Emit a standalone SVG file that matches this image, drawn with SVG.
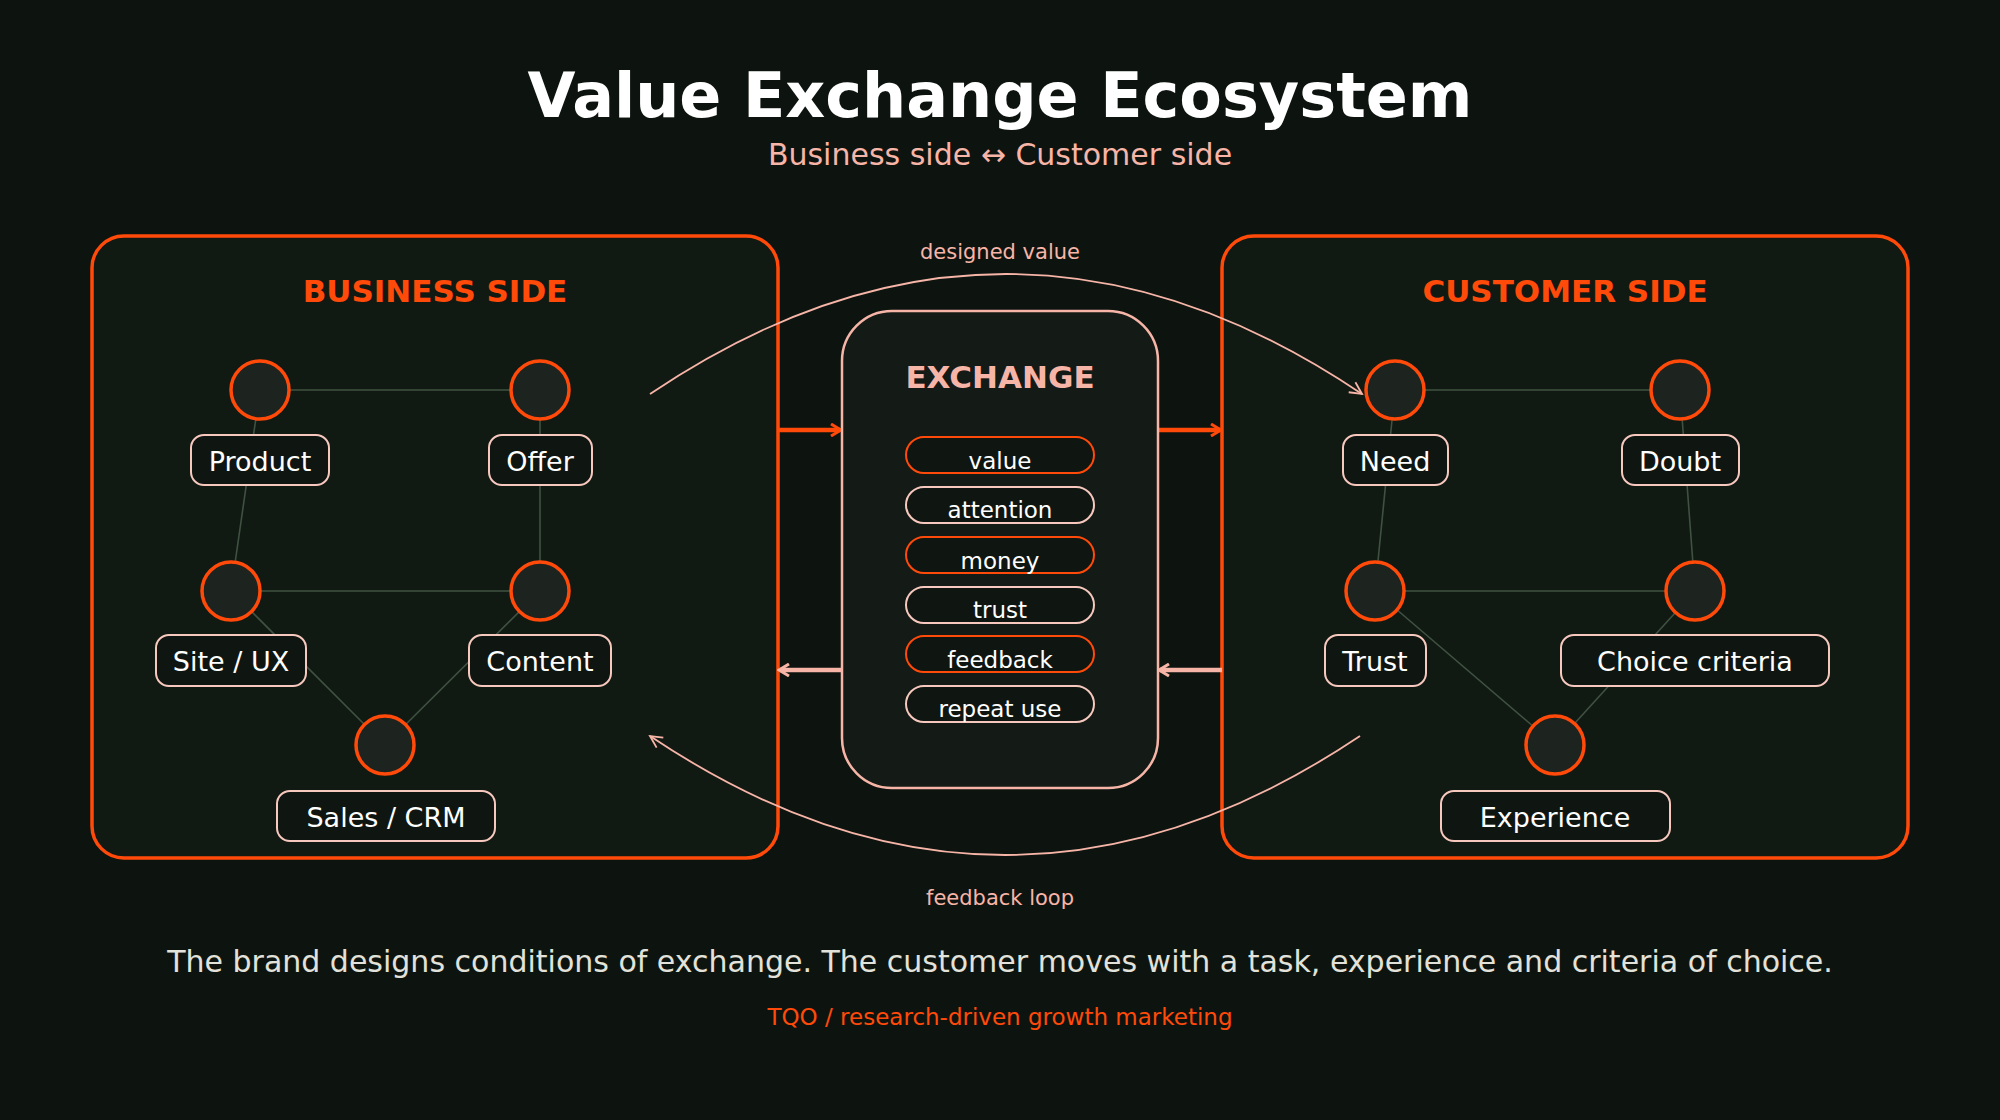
<svg xmlns="http://www.w3.org/2000/svg" width="2000" height="1120" viewBox="0 0 2000 1120">
<defs>
<style>
text{font-family:"DejaVu Sans","Noto Sans",sans-serif}
.panel{fill:#111913;stroke:#ff4a0a;stroke-width:3.5}
.exch{fill:#141b16;stroke:#f7b5a8;stroke-width:2.5}
.c{fill:#1d231f;stroke:#ff4a0a;stroke-width:3.5}
.lbl{fill:#0f1611;stroke:#f7c8be;stroke-width:2}
.lt{fill:#ffffff;font-size:27px;text-anchor:middle}
.e{stroke:#3f5140;stroke-width:1.6;fill:none}
.pillO{fill:#0f1611;stroke:#ff4a0a;stroke-width:2}
.pillP{fill:#0f1611;stroke:#f7c8be;stroke-width:2}
.pt{fill:#ffffff;font-size:23px;text-anchor:middle}
.head{fill:#ff4a0a;font-size:31px;font-weight:bold;text-anchor:middle}
</style>
<marker id="ao" markerWidth="14" markerHeight="14" refX="11" refY="7" orient="auto" markerUnits="userSpaceOnUse" viewBox="0 0 14 14"><path d="M2,1 L12,7 L2,13" fill="none" stroke="#ff4a0a" stroke-width="3"/></marker>
<marker id="ap" markerWidth="14" markerHeight="14" refX="11" refY="7" orient="auto" markerUnits="userSpaceOnUse" viewBox="0 0 14 14"><path d="M2,1 L12,7 L2,13" fill="none" stroke="#f7b5a8" stroke-width="3"/></marker>
<marker id="ac" markerWidth="16" markerHeight="16" refX="14" refY="8" orient="auto" markerUnits="userSpaceOnUse" viewBox="0 0 16 16"><path d="M2,2 L14,8 L2,14" fill="none" stroke="#f7b5a8" stroke-width="1.8"/></marker>
</defs>
<rect width="2000" height="1120" fill="#0d140f"/>
<text x="1000" y="117" font-size="62" font-weight="bold" fill="#ffffff" text-anchor="middle">Value Exchange Ecosystem</text>
<text x="1000" y="165" font-size="30" fill="#f7b5a8" text-anchor="middle">Business side ↔ Customer side</text>

<rect class="panel" x="92" y="236" width="686" height="622" rx="32"/>
<rect class="panel" x="1222" y="236" width="686" height="622" rx="32"/>
<text class="head" x="435" y="302">BUSINESS SIDE</text>
<text class="head" x="1565" y="302">CUSTOMER SIDE</text>

<g id="connectors">
<path class="e" d="M260,390 L540,390 M260,390 L231,591 M540,390 L540,591 M231,591 L540,591 M231,591 L385,745 M540,591 L385,745"/>
<path class="e" d="M1395,390 L1680,390 M1395,390 L1375,591 M1680,390 L1695,591 M1375,591 L1695,591 M1375,591 L1555,745 M1695,591 L1555,745"/>
<line x1="778" y1="430" x2="840" y2="430" stroke="#ff4a0a" stroke-width="4.5" marker-end="url(#ao)"/>
<line x1="1158" y1="430" x2="1220" y2="430" stroke="#ff4a0a" stroke-width="4.5" marker-end="url(#ao)"/>
<line x1="1222" y1="670" x2="1160" y2="670" stroke="#f7b5a8" stroke-width="4.5" marker-end="url(#ap)"/>
<line x1="842" y1="670" x2="780" y2="670" stroke="#f7b5a8" stroke-width="4.5" marker-end="url(#ap)"/>
<path d="M650,394 Q1006,154 1362,394" fill="none" stroke="#f7b5a8" stroke-width="1.8" marker-end="url(#ac)"/>
<path d="M1360,736 Q1005,974 650,736" fill="none" stroke="#f7b5a8" stroke-width="1.8" marker-end="url(#ac)"/>
</g>
<text x="1000" y="259" font-size="21" fill="#f7b5a8" text-anchor="middle">designed value</text>
<text x="1000" y="905" font-size="21" fill="#f7b5a8" text-anchor="middle">feedback loop</text>

<g id="exchange">
<rect class="exch" x="842" y="311" width="316" height="477" rx="50"/>
<text x="1000" y="388" font-size="31" font-weight="bold" fill="#f7b5a8" text-anchor="middle">EXCHANGE</text>
<rect class="pillO" x="906" y="437" width="188" height="36" rx="18"/><text class="pt" x="1000" y="469">value</text>
<rect class="pillP" x="906" y="487" width="188" height="36" rx="18"/><text class="pt" x="1000" y="518">attention</text>
<rect class="pillO" x="906" y="537" width="188" height="36" rx="18"/><text class="pt" x="1000" y="569">money</text>
<rect class="pillP" x="906" y="587" width="188" height="36" rx="18"/><text class="pt" x="1000" y="618">trust</text>
<rect class="pillO" x="906" y="636" width="188" height="36" rx="18"/><text class="pt" x="1000" y="668">feedback</text>
<rect class="pillP" x="906" y="686" width="188" height="36" rx="18"/><text class="pt" x="1000" y="717">repeat use</text>
</g>

<g id="product"><circle class="c" cx="260" cy="390" r="29"/><rect class="lbl" x="191" y="435" width="138" height="50" rx="13"/><text class="lt" x="260" y="471">Product</text></g>
<g id="offer"><circle class="c" cx="540" cy="390" r="29"/><rect class="lbl" x="489" y="435" width="103" height="50" rx="13"/><text class="lt" x="540" y="471">Offer</text></g>
<g id="siteux"><circle class="c" cx="231" cy="591" r="29"/><rect class="lbl" x="156" y="635" width="150" height="51" rx="13"/><text class="lt" x="231" y="671">Site / UX</text></g>
<g id="content"><circle class="c" cx="540" cy="591" r="29"/><rect class="lbl" x="469" y="635" width="142" height="51" rx="13"/><text class="lt" x="540" y="671">Content</text></g>
<g id="sales"><circle class="c" cx="385" cy="745" r="29"/><rect class="lbl" x="277" y="791" width="218" height="50" rx="13"/><text class="lt" x="386" y="827">Sales / CRM</text></g>

<g id="need"><circle class="c" cx="1395" cy="390" r="29"/><rect class="lbl" x="1343" y="435" width="105" height="50" rx="13"/><text class="lt" x="1395" y="471">Need</text></g>
<g id="doubt"><circle class="c" cx="1680" cy="390" r="29"/><rect class="lbl" x="1622" y="435" width="117" height="50" rx="13"/><text class="lt" x="1680" y="471">Doubt</text></g>
<g id="trust"><circle class="c" cx="1375" cy="591" r="29"/><rect class="lbl" x="1325" y="635" width="101" height="51" rx="13"/><text class="lt" x="1375" y="671">Trust</text></g>
<g id="choice"><circle class="c" cx="1695" cy="591" r="29"/><rect class="lbl" x="1561" y="635" width="268" height="51" rx="13"/><text class="lt" x="1695" y="671">Choice criteria</text></g>
<g id="experience"><circle class="c" cx="1555" cy="745" r="29"/><rect class="lbl" x="1441" y="791" width="229" height="50" rx="13"/><text class="lt" x="1555" y="827">Experience</text></g>

<text x="1000" y="972" font-size="30" fill="#e2e2da" text-anchor="middle">The brand designs conditions of exchange. The customer moves with a task, experience and criteria of choice.</text>
<text x="1000" y="1025" font-size="23" fill="#ff4a0a" text-anchor="middle">TQO / research-driven growth marketing</text>
</svg>
